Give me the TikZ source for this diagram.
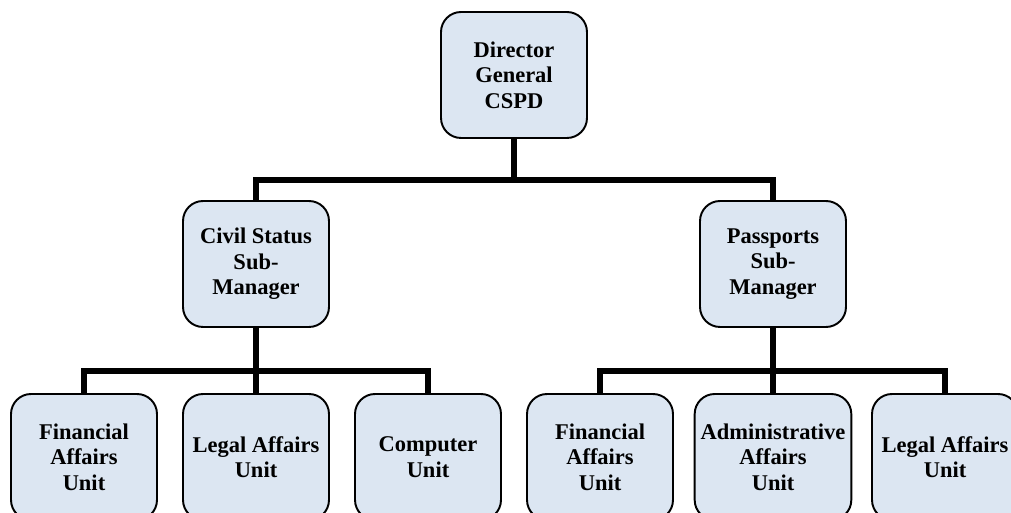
\documentclass[tikz,border=0pt]{standalone}
\usepackage{fontspec}
\setmainfont{Liberation Serif}
\usetikzlibrary{calc}
\definecolor{box-blue}{RGB}{220, 230, 242}

\tikzset{
  unit/.style={draw=black, fill=box-blue, line width=1.1pt, rounded corners=0.4cm,
    minimum width=2.92cm, minimum height=2.52cm, align=center,
    font=\fontsize{12.8}{14.5}\selectfont\bfseries},
  link/.style={line width=3.2pt}
}

\begin{document}
\begin{tikzpicture}[x=0.02cm, y=0.02cm]
\useasboundingbox (0,0) rectangle (1011,513);
\clip (0,0) rectangle (1011,513);

\node[unit] (dg) at (514,438) {Director\\General\\CSPD};

\node[unit] (cs) at (256,249) {Civil Status\\Sub-\\Manager};
\node[unit] (pm) at (773,249) {Passports\\Sub-\\Manager};

\node[unit] (csfin) at (84,56) {Financial\\Affairs\\Unit};
\node[unit] (cslegal) at (256,56) {Legal Affairs\\Unit};
\node[unit] (cscomp) at (428,56) {Computer\\Unit};

\node[unit] (pmfin) at (600,56) {Financial\\Affairs\\Unit};
\node[unit] (pmadmin) at (773,56) {Administrative\\Affairs\\Unit};
\node[unit] (pmlegal) at (945,56) {Legal Affairs\\Unit};

\coordinate (top-bus) at (514,333);
\coordinate (cs-bus) at (256,142);
\coordinate (pm-bus) at (773,142);

\draw[link] (dg.south) -- (top-bus) -| (cs.north);
\draw[link] (top-bus) -| (pm.north);

\draw[link] (cs.south) -- (cs-bus) -| (csfin.north);
\draw[link] (cs-bus) -- (cslegal.north);
\draw[link] (cs-bus) -| (cscomp.north);

\draw[link] (pm.south) -- (pm-bus) -| (pmfin.north);
\draw[link] (pm-bus) -- (pmadmin.north);
\draw[link] (pm-bus) -| (pmlegal.north);
\end{tikzpicture}
\end{document}
